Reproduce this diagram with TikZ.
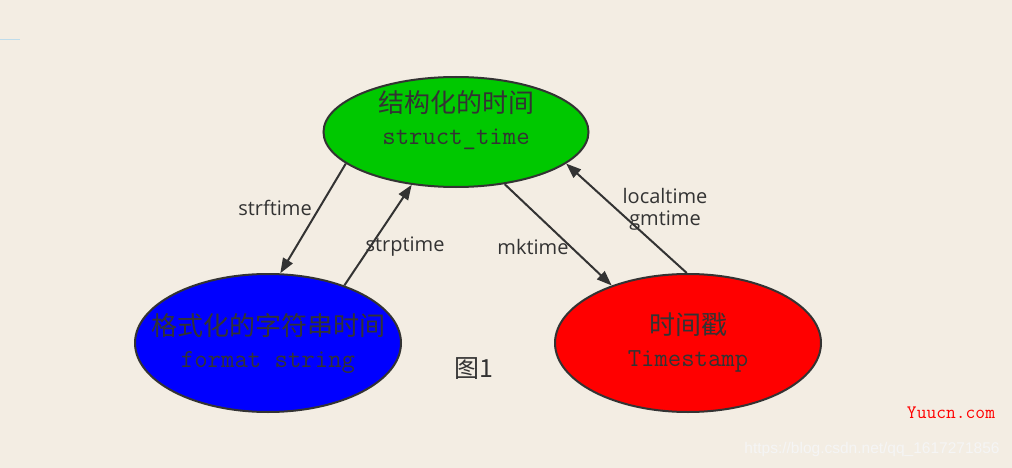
\documentclass[tikz,border=0pt]{standalone}
\usepackage{fontspec}
\usetikzlibrary{arrows.meta,shapes.geometric}
\newfontfamily\cjk{Noto Sans CJK SC}
\newfontfamily\lblfont{Open Sans}
\newfontfamily\wmfont{Liberation Sans}
\definecolor{bgc}{RGB}{243,237,227}
\definecolor{edge}{RGB}{51,51,51}
\definecolor{fgreen}{RGB}{0,200,0}
\definecolor{fblue}{RGB}{0,0,255}
\definecolor{fred}{RGB}{255,0,0}
\definecolor{lblue}{RGB}{190,220,235}
\tikzset{
  state/.style={ellipse, draw=edge, line width=2pt, inner sep=0pt},
  stext/.style={align=center, inner sep=0pt, text=edge, font=\fontsize{26}{32}\selectfont},
  conn/.style={draw=edge, line width=2pt, -{Triangle[length=15pt,width=11pt]}},
  lbl/.style={text=edge, font=\lblfont\fontsize{20}{24}\selectfont, inner sep=0pt, align=center},
}
\begin{document}
\begin{tikzpicture}[x=1pt,y=-1pt]
\fill[bgc] (0,0) rectangle (1012,468);
\useasboundingbox (0,0) rectangle (1012,468);
\coordinate (m1) at (0,40);
\coordinate (m2) at (20,40);
\draw[lblue, line width=1pt] (m1) -- (m2);

\node[state, fill=fgreen, minimum width=265pt, minimum height=110pt] (st) at (456,132) {};
\node[state, fill=fblue, minimum width=266pt, minimum height=138pt] (fs) at (268,343) {};
\node[state, fill=fred, minimum width=266pt, minimum height=138pt] (ts) at (688,343) {};

\node[stext] (stt) at ([yshift=12pt]st.center) {{\cjk 结构化的时间}\\{\ttfamily struct\_time}};
\node[stext] (fst) at (fs.center) {{\cjk 格式化的字符串时间}\\{\ttfamily format string}};
\node[stext] (tst) at (ts.center) {{\cjk 时间戳}\\{\ttfamily Timestamp}};

\draw[conn] (st.196) -- (fs.80);
\draw[conn] (fs.37) -- (st.230);
\draw[conn] (st.313) -- (ts.143);
\draw[conn] (ts.91) -- (st.344);

\node[lbl] (l1) at (275,208) {strftime};
\node[lbl] (l2) at (405,247) {strptime};
\node[lbl] (l3) at (533,247) {mktime};
\node[lbl] (l4) at (665,209) {localtime\\[-2pt]gmtime};

\node[text=edge, font=\cjk\fontsize{25}{30}\selectfont, inner sep=0pt] (fig) at (474,369) {图1};

\node[text=fred, font=\ttfamily\fontsize{19}{22}\selectfont, inner sep=0pt] (yu) at (951,413) {Yuucn.com};
\node[text=white!92!gray, font=\wmfont\fontsize{15.5}{18}\selectfont, inner sep=0pt] (wm) at (872,449) {https://blog.csdn.net/qq\_1617271856};
\end{tikzpicture}
\end{document}
